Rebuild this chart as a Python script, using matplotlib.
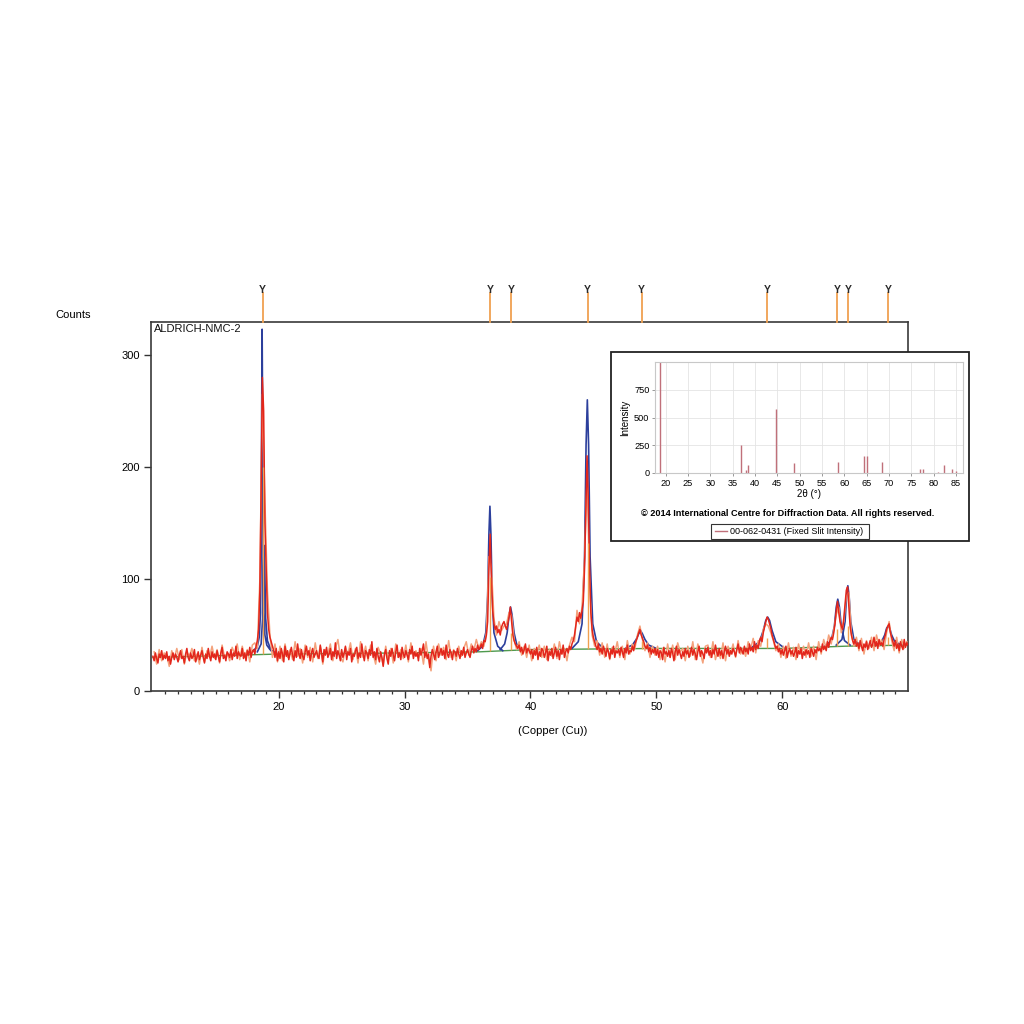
import numpy as np
import matplotlib
matplotlib.use("Agg")
import matplotlib.pyplot as plt
from matplotlib.patches import Rectangle
from matplotlib.lines import Line2D
import matplotlib.transforms as mtransforms

plt.rcParams['font.family'] = ['Liberation Sans', 'DejaVu Sans']

# ---------------- data ----------------
obs_start, obs_step = 10.0, 0.1
obs_counts = [
    31,27,34,29,25,33,30,36,28,32,   # 10
    29,35,27,31,24,30,34,28,33,30,   # 11
    26,32,36,29,31,25,33,38,30,27,   # 12
    34,29,31,37,26,30,35,28,32,36,   # 13
    30,25,33,29,38,31,27,35,30,33,   # 14
    28,36,31,26,34,39,29,32,27,35,   # 15
    33,30,37,28,34,31,40,29,35,32,   # 16
    31,38,29,34,27,36,32,39,30,35,   # 17
    37,33,40,45,55,90,180,280,250,150,  # 18
    110,70,55,48,44,40,36,30,38,27,  # 19
    35,29,38,33,26,40,31,36,28,34,   # 20
    39,32,27,36,30,42,33,29,37,31,   # 21
    28,35,40,32,36,27,34,38,30,33,   # 22
    36,31,29,41,34,26,37,32,39,30,   # 23
    33,38,28,35,31,43,29,36,32,27,   # 24
    37,30,34,40,28,35,32,38,26,33,   # 25
    31,36,39,29,34,30,42,33,27,36,   # 26
    34,29,37,32,44,30,35,28,38,31,   # 27
    26,35,30,22,33,37,29,24,36,31,   # 28
    38,32,27,35,41,30,34,28,39,33,   # 29
    30,36,32,28,37,33,40,29,35,31,   # 30
    34,27,38,32,36,42,30,35,29,33,   # 31
    21,31,37,33,28,35,40,30,34,38,   # 32
    32,36,29,41,33,30,37,34,28,36,   # 33
    35,31,38,33,29,36,32,39,30,34,   # 34
    37,33,30,36,40,34,38,35,41,37,   # 35
    39,42,38,45,44,50,62,110,140,100,  # 36
    72,60,55,58,52,55,50,57,60,62,   # 37
    58,55,60,66,75,62,50,45,42,40,   # 38
    38,41,35,39,33,37,42,34,38,36,   # 39
    33,37,29,36,32,39,28,35,31,38,   # 40
    36,30,34,40,27,35,32,38,29,34,   # 41
    39,31,36,28,37,33,41,30,35,38,   # 42
    34,40,37,42,45,50,58,66,62,70,   # 43
    65,72,80,110,160,210,170,110,70,55,  # 44
    48,44,40,37,42,35,38,33,40,36,   # 45
    31,38,35,29,37,33,40,30,36,34,   # 46
    37,32,39,35,30,38,34,41,33,36,   # 47
    35,40,36,42,45,48,52,55,50,47,   # 48
    44,40,38,41,35,39,33,37,34,38,   # 49
    32,37,30,36,34,28,39,33,35,31,   # 50
    36,30,38,34,27,35,40,32,37,33,   # 51
    29,35,31,38,33,36,30,34,39,32,   # 52
    37,33,28,35,40,31,36,33,29,38,   # 53
    34,39,32,36,30,37,33,41,35,31,   # 54
    38,32,36,29,35,40,33,37,31,36,   # 55
    33,38,35,31,37,42,34,39,36,33,   # 56
    40,35,38,33,42,36,39,35,44,37,   # 57
    41,38,45,48,44,52,57,62,66,64,   # 58
    60,56,50,46,42,38,40,35,38,33,   # 59
    37,32,36,40,30,35,38,33,36,31,   # 60
    34,39,30,36,33,38,29,35,32,37,   # 61
    33,36,30,38,35,31,37,34,39,36,   # 62
    38,35,42,37,40,36,44,39,45,48,   # 63
    46,52,60,72,80,70,62,58,55,65,   # 64
    78,90,93,75,58,50,45,42,46,40,   # 65
    43,38,45,40,36,42,39,44,37,41,   # 66
    45,39,42,48,40,44,38,46,41,43,   # 67
    40,46,50,55,58,60,52,48,44,40,   # 68
    45,38,42,36,44,40,37,46,39,43,   # 69
    41,
]

raw_start, raw_step = 10.1, 0.2
raw_counts = [
    35,24,37,27,34,  32,22,36,29,38,  28,37,24,35,31,  38,27,33,24,39,   # 10-13
    26,36,30,40,29,  37,25,41,30,34,  27,39,33,42,28,  40,30,37,26,41,   # 14-17
    43,38,100,265,170,  90,50,30,42,26,  40,27,42,30,37,  28,44,31,38,25, # 18-21
    41,30,39,26,43,  29,40,24,37,33,  42,27,38,46,30,  26,39,33,43,28,   # 22-25
    38,25,44,30,40,  27,41,33,24,39,  33,23,40,27,38,  25,42,30,37,29,   # 26-29
    41,26,43,31,36,  30,38,24,44,28,  18,40,27,42,32,  39,28,45,30,37,   # 30-33
    27,40,31,38,44,  32,42,36,46,38,  44,40,52,120,110,  65,50,62,54,58, # 34-37
    60,70,68,46,37,  44,32,40,30,41,  27,38,33,41,30,  40,28,37,31,42,   # 38-41
    29,44,33,38,27,  41,48,44,72,60,  75,120,190,95,50,  40,45,32,43,30, # 42-45
    42,28,39,34,44,  30,40,28,45,33,  42,38,50,58,46,  36,43,30,40,32,   # 46-49
    40,28,38,26,42,  30,41,28,43,35,  38,27,40,31,44,  28,42,34,25,40,   # 50-53
    41,30,44,28,37,  29,43,27,40,33,  42,30,45,33,38,  31,44,38,47,34,   # 54-57
    45,40,55,60,58,  52,45,36,42,30,  40,29,43,31,39,  28,42,33,40,30,   # 58-61
    43,31,40,28,44,  33,46,38,50,42,  55,68,75,52,62,  85,88,52,40,48,   # 62-65
    36,47,33,45,38,  48,36,50,40,46,  37,52,62,45,36,  48,34,46,38,44,   # 66-69
]

# fitted peak profiles (blue), segments separated by nan
fit_x = [17.6,18.0,18.3,18.45,18.55,18.6,18.64,18.68,18.72,18.76,18.81,18.9,19.05,19.3,19.8, np.nan,
         18.3,18.6,18.72,18.79,18.84,18.89,18.96,19.1,19.4, np.nan,
         35.8,36.2,36.45,36.6,36.7,36.78,36.86,36.96,37.1,37.4,37.8, np.nan,
         37.6,37.95,38.15,38.3,38.42,38.54,38.7,38.9,39.3, np.nan,
         43.3,43.8,44.1,44.3,44.42,44.52,44.62,44.74,44.95,45.25,45.8, np.nan,
         47.6,48.1,48.4,48.6,48.75,48.9,49.1,49.4,49.9, np.nan,
         57.6,58.2,58.5,58.7,58.85,59.0,59.2,59.5,60.1, np.nan,
         63.4,63.9,64.15,64.3,64.42,64.55,64.7,64.95,65.4, np.nan,
         64.3,64.75,65.0,65.12,65.22,65.32,65.45,65.7,66.2, np.nan,
         67.4,67.9,68.15,68.3,68.42,68.55,68.7,68.95,69.5]
fit_y = [34,36,40,48,70,120,240,323,240,120,70,50,41,37,34, np.nan,
         35,42,65,110,130,110,65,45,36, np.nan,
         36,40,52,85,140,165,140,85,52,40,36, np.nan,
         37,42,52,68,75,68,52,42,37, np.nan,
         38,44,60,120,220,260,220,120,60,44,38, np.nan,
         38.5,41,46,51,54,51,46,41,38.5, np.nan,
         39,44,54,63,66,63,54,44,39, np.nan,
         40,45,58,75,82,75,58,45,41, np.nan,
         41,46,62,85,94,85,62,46,41, np.nan,
         41,44,50,56,58,56,50,44,41]

bg_x = [10, 20, 30, 36, 40, 50, 60, 65, 70]
bg_y = [30, 33, 34, 35, 37, 38, 38, 40, 41]

stick_pos = [18.72, 36.78, 38.45, 44.55, 48.83, 58.81, 64.36, 65.23, 68.40]
stick_top = [200, 102, 52, 132, 45, 47, 55, 58, 48]

ref_pos = [18.7, 36.8, 38.0, 38.5, 44.6, 48.7, 58.7, 64.4, 65.15, 68.4,
           77.0, 77.6, 80.9, 82.4, 84.2, 85.0]
ref_int = [999, 250, 30, 70, 575, 88, 100, 152, 152, 97,
           38, 32, 12, 70, 35, 15]

main_xticks = [20, 30, 40, 50, 60]
main_yticks = [0, 100, 200, 300]
inset_xticks = [20, 25, 30, 35, 40, 45, 50, 55, 60, 65, 70, 75, 80, 85]
inset_yticks = [0, 250, 500, 750]

# ---------------- figure ----------------
fig = plt.figure(figsize=(10.24, 10.24), dpi=100)
fig.patch.set_facecolor('white')

ax = fig.add_axes([151/1024, 1-691/1024, 757/1024, 369/1024])
obs_x = obs_start + obs_step*np.arange(len(obs_counts))
raw_x = raw_start + raw_step*np.arange(len(raw_counts))

ax.plot(bg_x, bg_y, color='#4e9a4e', lw=1.0, zorder=1)
ax.plot(fit_x, fit_y, color='#2c3f9c', lw=1.2, zorder=2)
ax.plot(raw_x, raw_counts, color='#f4a27c', lw=1.1, zorder=3)
ax.plot(obs_x, obs_counts, color='#e3261b', lw=1.1, zorder=4)
bg_at = np.interp(stick_pos, bg_x, bg_y)
ax.vlines(stick_pos, bg_at, stick_top, color='#f0a050', lw=1.0, zorder=5)

ax.set_xlim(9.85, 70.0)
ax.set_ylim(0, 329.5)
ax.set_xticks(main_xticks)
ax.set_xticks(np.arange(11, 70, 1), minor=True)
ax.set_yticks(main_yticks)
ax.tick_params(axis='both', which='major', direction='out', length=5, width=1,
               color='#333333', labelsize=8, pad=3)
ax.tick_params(axis='x', which='minor', direction='out', length=2.5, width=0.9, color='#333333')
for s in ax.spines.values():
    s.set_color('#3a3a3a')
    s.set_linewidth(1.2)

ax.text(0.004, 0.995, 'ALDRICH-NMC-2', transform=ax.transAxes, fontsize=8,
        ha='left', va='top', color='#111111')
fig.text(55/1024, 1-315/1024, 'Counts', fontsize=8, ha='left', va='center')
fig.text(518/1024, 1-731/1024, '(Copper (Cu))', fontsize=8, ha='left', va='center')

# top markers
trans = mtransforms.blended_transform_factory(ax.transData, ax.transAxes)
for p in stick_pos:
    ax.plot([p, p], [1.0, 1.078], transform=trans, color='#f0a050', lw=1.3,
            clip_on=False, zorder=6)
    ax.text(p, 1.074, 'Y', transform=trans, fontsize=7.5, fontweight='bold',
            color='#2a2a2a', ha='center', va='bottom', clip_on=False, zorder=7)

# inset frame
fig.patches.append(Rectangle((611/1024, 1-541/1024), 358/1024, 189/1024,
                             transform=fig.transFigure, facecolor='white',
                             edgecolor='#222222', lw=1.3, zorder=2))

axi = fig.add_axes([655/1024, 1-473/1024, 308/1024, 111/1024], zorder=3)
axi.vlines(ref_pos, 0, ref_int, color='#c0707a', lw=1.0)
axi.set_xlim(17.6, 86.6)
axi.set_ylim(0, 1000)
axi.set_xticks(inset_xticks)
axi.set_yticks(inset_yticks)
axi.grid(True, color='#e4e4e4', lw=0.6)
axi.set_axisbelow(True)
axi.tick_params(axis='both', labelsize=6.6, length=2, width=0.6, color='#888888', pad=2)
for s in axi.spines.values():
    s.set_color('#c8c8c8')
    s.set_linewidth(0.8)
axi.set_ylabel('Intensity', fontsize=7, labelpad=3)
axi.set_xlabel('2θ (°)', fontsize=7, labelpad=1)

fig.text(788/1024, 1-514/1024,
         '© 2014 International Centre for Diffraction Data. All rights reserved.',
         fontsize=6.6, fontweight='bold', ha='center', va='center', zorder=4)
fig.patches.append(Rectangle((711/1024, 1-539/1024), 158/1024, 15/1024,
                             transform=fig.transFigure, facecolor='white',
                             edgecolor='#333333', lw=0.8, zorder=4))
fig.lines.append(Line2D([715/1024, 727/1024], [1-531/1024, 1-531/1024],
                        transform=fig.transFigure, color='#c0707a', lw=1.0, zorder=5))
fig.text(730/1024, 1-531/1024, '00-062-0431 (Fixed Slit Intensity)', fontsize=6.5,
         ha='left', va='center', zorder=5)

fig.savefig('out.png', dpi=100, facecolor='white')
